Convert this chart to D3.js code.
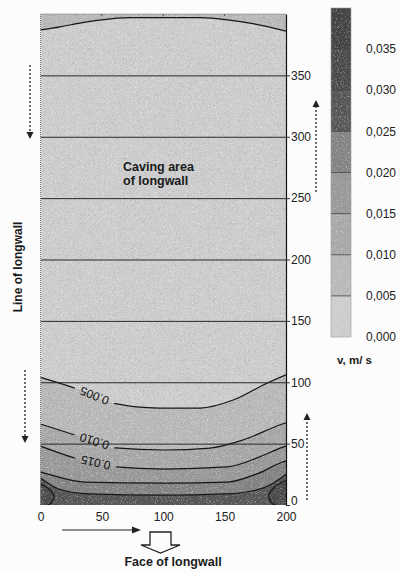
<!DOCTYPE html>
<meta charset="utf-8">
<script src="https://d3js.org/d3.v7.js"></script>
<style>
  body { margin: 0; background: #fcfcfc; }
  svg { display: block; font-family: "Liberation Sans", Arial, sans-serif; }
</style>
<body>
<div id="chart"></div>
<script>
  // axis ticks
  const xTicks = [0, 50, 100, 150, 200];
  const yTicks = [0, 50, 100, 150, 200, 250, 300, 350];
  // colour bar levels (m/s)
  const levels = [0, 0.005, 0.010, 0.015, 0.020, 0.025, 0.030, 0.035, 0.040];
  const cbTicks = [0, 0.005, 0.010, 0.015, 0.020, 0.025, 0.030, 0.035];
  const bandGrey = ["#cdcdcd", "#b9b9b9", "#a8a8a8", "#999999", "#848484", "#575757", "#4b4b4b", "#444444"];

  // contour lines, [x, y] in metres
  const lineTop005 = [[0, 387], [16, 389.5], [32, 392.6], [48, 395], [73, 397], [130, 397], [154, 395], [174, 392], [200, 386]];
  const line005 = [[0, 104], [30, 94.5], [59, 83], [97, 79], [130, 79], [157, 85.5], [184, 99], [200, 106]];
  const line010 = [[0, 66], [28, 57], [61, 46.5], [101, 44.8], [138, 46.4], [165, 53], [197, 66], [200, 67]];
  const line015 = [[0, 48], [28, 38.3], [61, 31], [101, 29.3], [152, 31], [178, 39], [197, 47], [200, 48]];
  const line020 = [[0, 27], [12, 23.5], [36, 18.7], [101, 17.9], [152, 18.7], [178, 26], [197, 35], [200, 36]];
  const line025 = [[0, 22], [15, 13], [40, 9], [100, 8], [150, 9], [175, 12], [190, 18], [200, 25]];
  const blob030L = [[0, 17], [7, 13], [11, 7], [9, 2], [6, 0]];
  const blob030R = [[200, 20], [191, 15], [186, 8], [188, 2], [191, 0]];

  const labelLevels = [0.005, 0.010, 0.015];
  const labelX = [44, 44, 45];

  const W = 400, H = 573;
  const svg = d3.select("#chart").append("svg").attr("width", W).attr("height", H);

  const x = d3.scaleLinear().domain([0, 200]).range([40.5, 286]);
  const y = d3.scaleLinear().domain([0, 400]).range([505, 14]);
  const color = d3.scaleThreshold().domain(levels.slice(1, -1)).range(bandGrey);

  const defs = svg.append("defs");
  defs.append("clipPath").attr("id", "plotClip")
    .append("rect").attr("x", x(0)).attr("y", y(400))
    .attr("width", x(200) - x(0)).attr("height", y(0) - y(400));

  // paper grain
  const grain = defs.append("filter").attr("id", "grain")
    .attr("x", 0).attr("y", 0).attr("width", "100%").attr("height", "100%");
  grain.append("feTurbulence").attr("type", "fractalNoise")
    .attr("baseFrequency", 1.2).attr("numOctaves", 2).attr("seed", 7);
  grain.append("feColorMatrix").attr("type", "matrix")
    .attr("values", "0 0 0 0 1  0 0 0 0 1  0 0 0 0 1  3.4 0 0 0 -1.9");
  const grainD = defs.append("filter").attr("id", "grainDark")
    .attr("x", 0).attr("y", 0).attr("width", "100%").attr("height", "100%");
  grainD.append("feTurbulence").attr("type", "fractalNoise")
    .attr("baseFrequency", 1.4).attr("numOctaves", 1).attr("seed", 3);
  grainD.append("feColorMatrix").attr("type", "matrix")
    .attr("values", "0 0 0 0 0  0 0 0 0 0  0 0 0 0 0  0 3 0 0 -1.7");

  const plot = svg.append("g").attr("clip-path", "url(#plotClip)");

  plot.append("rect")
    .attr("x", x(0)).attr("y", y(400))
    .attr("width", x(200) - x(0)).attr("height", y(0) - y(400))
    .attr("fill", color(0));

  const lineGen = d3.line().x(d => x(d[0])).y(d => y(d[1])).curve(d3.curveMonotoneX);
  const blobGen = d3.line().x(d => x(d[0])).y(d => y(d[1])).curve(d3.curveCatmullRom);
  const areaDown = d3.area().x(d => x(d[0])).y0(y(0)).y1(d => y(d[1])).curve(d3.curveMonotoneX);
  const areaUp = d3.area().x(d => x(d[0])).y0(y(400)).y1(d => y(d[1])).curve(d3.curveMonotoneX);

  // filled bands
  plot.append("path").attr("d", areaUp(lineTop005)).attr("fill", color(0.006));
  const bottomLines = [line005, line010, line015, line020, line025];
  const bottomLevels = [0.005, 0.010, 0.015, 0.020, 0.025];
  bottomLines.forEach((ln, i) => {
    plot.append("path").attr("d", areaDown(ln)).attr("fill", color(bottomLevels[i] + 0.001));
  });
  plot.append("path").attr("d", blobGen(blob030L) + `L${x(0)},${y(0)}Z`).attr("fill", color(0.031));
  plot.append("path").attr("d", blobGen(blob030R) + `L${x(200)},${y(0)}Z`).attr("fill", color(0.031));

  plot.append("rect")
    .attr("x", x(0)).attr("y", y(400))
    .attr("width", x(200) - x(0)).attr("height", y(0) - y(400))
    .attr("filter", "url(#grain)").attr("opacity", 0.55);
  plot.append("rect")
    .attr("x", x(0)).attr("y", y(400))
    .attr("width", x(200) - x(0)).attr("height", y(0) - y(400))
    .attr("filter", "url(#grainDark)").attr("opacity", 0.18);

  // grid lines
  plot.selectAll(".grid")
    .data(yTicks.filter(d => d > 0))
    .join("line")
      .attr("x1", x(0)).attr("x2", x(200))
      .attr("y1", d => y(d) + 0.5).attr("y2", d => y(d) + 0.5)
      .attr("stroke", "#2a2a2a").attr("stroke-width", 1);

  // contour label positions along the lines
  const linesByLevel = { 0.005: line005, 0.010: line010, 0.015: line015 };
  const labels = labelLevels.map((lev, i) => {
    const pts = linesByLevel[lev];
    const lx = labelX[i];
    let k = pts.findIndex(p => p[0] > lx);
    const a = pts[k - 1], b = pts[k];
    const t = (lx - a[0]) / (b[0] - a[0]);
    const ly = a[1] + t * (b[1] - a[1]);
    const ang = Math.atan2(y(b[1]) - y(a[1]), x(b[0]) - x(a[0])) * 180 / Math.PI;
    return { lev, px: x(lx), py: y(ly), ang };
  });

  const mask = defs.append("mask").attr("id", "labelMask");
  mask.append("rect").attr("x", 0).attr("y", 0).attr("width", W).attr("height", H).attr("fill", "white");
  mask.selectAll(".m").data(labels).join("rect")
    .attr("x", -21).attr("y", -6).attr("width", 42).attr("height", 12)
    .attr("fill", "black")
    .attr("transform", d => `translate(${d.px},${d.py}) rotate(${d.ang})`);

  const contourG = plot.append("g").attr("mask", "url(#labelMask)")
    .attr("fill", "none").attr("stroke", "#161616").attr("stroke-width", 1.2);
  contourG.append("path").attr("d", lineGen(lineTop005));
  bottomLines.forEach(ln => contourG.append("path").attr("d", lineGen(ln)));
  contourG.append("path").attr("d", blobGen(blob030L));
  contourG.append("path").attr("d", blobGen(blob030R));

  plot.selectAll(".clab").data(labels).join("text")
    .attr("transform", d => `translate(${d.px},${d.py}) rotate(${d.ang + 180})`)
    .attr("text-anchor", "middle").attr("dy", "0.35em")
    .attr("font-size", 12).attr("fill", "#111")
    .text(d => d3.format(".3f")(d.lev));

  // frame (top/left faint)
  svg.append("path")
    .attr("d", `M${x(0)},${y(0)}V${y(400)}H${x(200)}`)
    .attr("fill", "none").attr("stroke", "#777").attr("stroke-width", 1)
    .attr("stroke-dasharray", "1,1");
  svg.selectAll(".ttick").data([50, 100, 150]).join("line")
    .attr("x1", d => x(d)).attr("x2", d => x(d))
    .attr("y1", y(400)).attr("y2", y(400) + 2)
    .attr("stroke", "#555");

  // right axis
  const yAxis = svg.append("g")
    .attr("transform", `translate(${x(200)},0)`)
    .call(d3.axisRight(y).tickValues(yTicks).tickSize(4).tickSizeOuter(0).tickPadding(1));
  yAxis.select(".domain").attr("stroke", "#111").attr("stroke-width", 1.2);
  yAxis.selectAll("text").attr("font-size", 12).attr("fill", "#222")
    .attr("font-family", "Liberation Sans, Arial, sans-serif");
  yAxis.selectAll(".tick").filter(d => d === 0).select("text").attr("dy", "-0.05em");
  yAxis.selectAll("line").attr("stroke", "#333");

  // bottom axis
  const xAxis = svg.append("g")
    .attr("transform", `translate(0,${y(0)})`)
    .call(d3.axisBottom(x).tickValues(xTicks).tickSize(0).tickPadding(7));
  xAxis.select(".domain").remove();
  xAxis.selectAll("text").attr("font-size", 12).attr("fill", "#222")
    .attr("font-family", "Liberation Sans, Arial, sans-serif");

  // colour bar
  const cb = d3.scaleLinear().domain([0, 0.04]).range([337, 8]);
  const cbX = 331, cbW = 20;
  const cbG = svg.append("g");
  cbG.selectAll("rect").data(d3.pairs(levels)).join("rect")
    .attr("x", cbX).attr("width", cbW)
    .attr("y", d => cb(d[1])).attr("height", d => cb(d[0]) - cb(d[1]))
    .attr("fill", d => color(d[0]));
  cbG.append("rect").attr("x", cbX).attr("y", cb(0.04)).attr("width", cbW)
    .attr("height", cb(0) - cb(0.04))
    .attr("filter", "url(#grain)").attr("opacity", 0.5);
  cbG.selectAll(".sep").data(levels.slice(1, -1)).join("line")
    .attr("x1", cbX).attr("x2", cbX + cbW)
    .attr("y1", d => cb(d)).attr("y2", d => cb(d))
    .attr("stroke", "#4a3a3a").attr("stroke-width", 0.8);
  cbG.append("rect").attr("x", cbX).attr("y", cb(0.04)).attr("width", cbW)
    .attr("height", cb(0) - cb(0.04))
    .attr("fill", "none").attr("stroke", "#999").attr("stroke-width", 0.6);

  const commaFmt = d3.formatLocale({ decimal: ",", thousands: ".", grouping: [3], currency: ["", ""] }).format(".3f");
  cbG.selectAll(".cbl").data(cbTicks).join("text")
    .attr("x", 366).attr("y", d => cb(d)).attr("dy", "0.35em")
    .attr("font-size", 12).attr("fill", "#222")
    .text(d => commaFmt(d));

  svg.append("text").attr("x", 337).attr("y", 364)
    .attr("font-size", 11.5).attr("font-weight", "bold").attr("fill", "#222")
    .text("v, m/ s");

  // annotations
  svg.append("text").attr("x", 123).attr("y", 171)
    .attr("font-size", 12.5).attr("font-weight", "bold").attr("fill", "#1a1a1a")
    .text("Caving area");
  svg.append("text").attr("x", 123).attr("y", 185)
    .attr("font-size", 12.5).attr("font-weight", "bold").attr("fill", "#1a1a1a")
    .text("of longwall");
  svg.append("text")
    .attr("transform", "translate(18,267) rotate(-90)")
    .attr("text-anchor", "middle").attr("dy", "0.35em")
    .attr("font-size", 12).attr("font-weight", "bold").attr("fill", "#1a1a1a")
    .text("Line of longwall");
  svg.append("text").attr("x", 173).attr("y", 566)
    .attr("text-anchor", "middle")
    .attr("font-size", 12.5).attr("font-weight", "bold").attr("fill", "#1a1a1a")
    .text("Face of longwall");

  const ann = svg.append("g").attr("stroke", "#222").attr("fill", "#222");
  function dottedArrow(xp, yTail, yHead) {
    const dir = yHead > yTail ? 1 : -1;
    ann.append("line").attr("x1", xp).attr("x2", xp)
      .attr("y1", yTail).attr("y2", yHead - dir * 5)
      .attr("stroke-width", 1.3).attr("stroke-dasharray", "2,2");
    ann.append("path").attr("stroke", "none")
      .attr("d", `M${xp - 3.5},${yHead - dir * 7}L${xp + 3.5},${yHead - dir * 7}L${xp},${yHead}Z`);
  }
  dottedArrow(30, 65, 139);
  dottedArrow(25, 370, 443);
  dottedArrow(316, 192, 100);
  dottedArrow(307, 500, 413);

  // solid arrow along the face direction
  ann.append("line").attr("x1", 62).attr("x2", 134).attr("y1", 530).attr("y2", 530).attr("stroke-width", 1.2);
  ann.append("path").attr("stroke", "none").attr("d", "M132,526.5L141,530L132,533.5Z");

  // hollow block arrow
  svg.append("path")
    .attr("d", "M150,532H171V545H180L160.5,553L141,545H150Z")
    .attr("fill", "#fcfcfc").attr("stroke", "#222").attr("stroke-width", 1.3);
</script>
</body>
